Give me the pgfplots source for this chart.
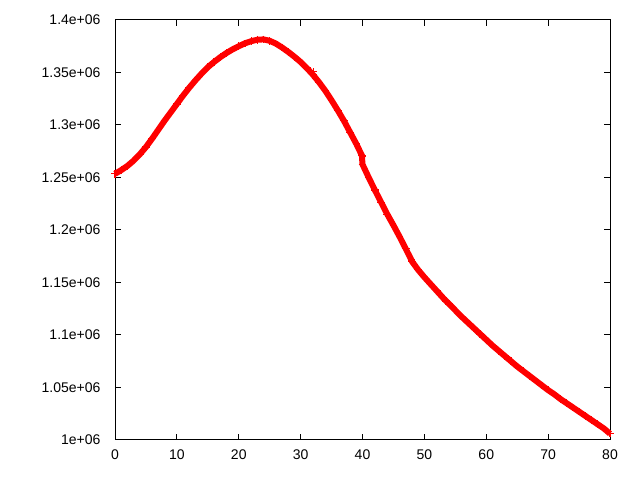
\documentclass[border=0pt]{standalone}
\usepackage{pgfplots}
\pgfplotsset{compat=1.18}
\usepackage{fontspec}
\setmainfont{Liberation Sans}
\begin{document}
\begin{tikzpicture}[x=1bp,y=1bp]
\useasboundingbox (0,0) rectangle (640,480);
\begin{axis}[
  at={(115bp,40bp)}, anchor=south west,
  width=495bp, height=420bp, scale only axis,
  xmin=0, xmax=80, ymin=1000000, ymax=1400000,
  xtick={0,10,...,80},
  ytick={1000000,1050000,1100000,1150000,1200000,1250000,1300000,1350000,1400000},
  yticklabels={1e+06,1.05e+06,1.1e+06,1.15e+06,1.2e+06,1.25e+06,1.3e+06,1.35e+06,1.4e+06},
  scaled y ticks=false,
  tick align=inside, tick pos=both,
  major tick length=6bp,
  axis line style={black, line width=1bp},
  tick style={black, line width=1bp},
  ticklabel style={font=\fontsize{14bp}{16bp}\selectfont},
  /pgf/number format/assume math mode=true,
  yticklabel style={xshift=-11bp},
  xticklabel style={yshift=-6bp},
  clip=false,
]
\addplot[red, line width=6bp, mark=+, mark size=3.8bp, mark options={line width=1.2bp, solid}] coordinates {
(0,1253500)(1,1257000)(2,1261000)(3,1266000)(4,1272000)(5,1279000)
(6,1287000)(7,1295500)(8,1304000)(9,1312000)(10,1320000)(11,1328000)
(12,1335500)(13,1342500)(14,1349000)(15,1355000)(16,1360000)(17,1364500)
(18,1368500)(19,1372000)(20,1375000)(21,1377800)(22,1379800)(23,1381200)
(24,1381500)(25,1380200)(26,1377500)(27,1373800)(28,1369600)(29,1365000)
(30,1360000)(31,1354200)(32,1347800)(33,1340500)(34,1332500)(35,1323500)
(36,1314000)(37,1304000)(38,1293000)(39,1282000)(39.9,1271000)(40,1262500)
(41,1250000)(42,1238000)(43,1226500)(44,1215000)(45,1204500)(46,1193500)
(47,1182000)(47.9,1171500)(48,1170000)(49,1162000)(50,1155000)(51,1148500)
(52,1142000)(53,1135500)(54,1129500)(55,1123500)(56,1117500)(57,1112000)
(58,1106500)(59,1101000)(60,1095500)(61,1090000)(62,1085000)(63,1080000)
(64,1075000)(65,1070000)(66,1065500)(67,1061000)(68,1056500)(69,1052000)
(70,1047500)(71,1043500)(72,1039000)(73,1035000)(74,1031000)(75,1027000)
(76,1023000)(77,1019000)(78,1015000)(79,1011000)(80,1006000)
};
\addplot[red, only marks, mark=+, mark size=3.8bp, mark options={line width=1bp}] coordinates {
(32,1350500)(40,1270000)
};
\end{axis}
\end{tikzpicture}
\end{document}
